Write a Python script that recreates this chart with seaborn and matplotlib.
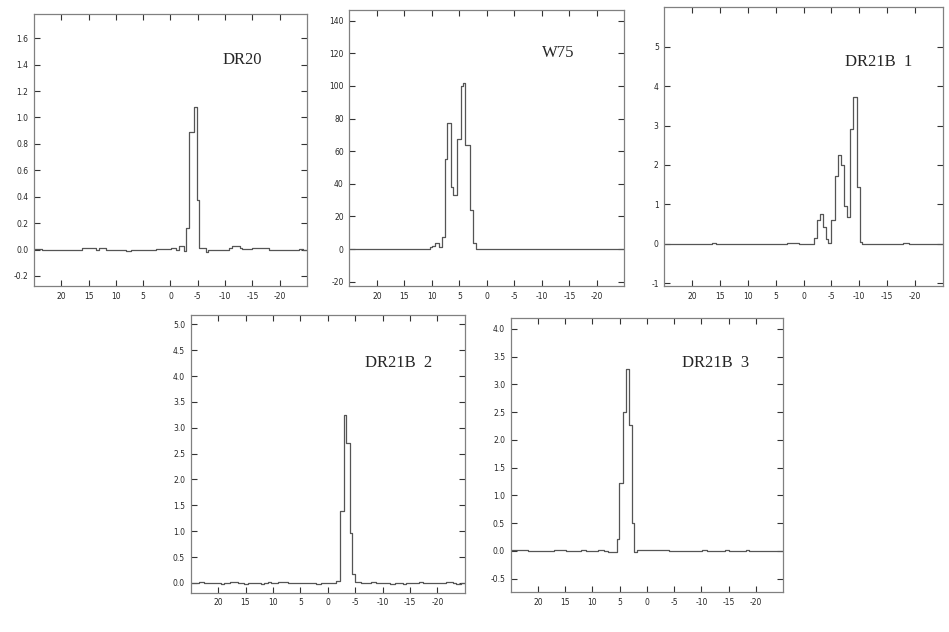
import numpy as np
import pandas as pd
import seaborn as sns
import matplotlib.pyplot as plt

# spectra as step breakpoints: velocity edge (km/s, descending) and value of channel starting there
dr20_vel = [25.0, 23.5, 19.8, 16.2, 13.7, 13.1, 11.9, 8.2, 7.3, 2.7, -0.1, -0.95, -1.56, -2.47,
            -2.85, -3.4, -4.35, -4.88, -5.3, -6.45, -6.93, -10.7, -11.3, -12.7, -13.15, -15.0,
            -18.0, -20.5, -23.5, -24.3]
dr20_flux = [0.005, 0.0, -0.005, 0.01, 0.0, 0.012, 0.0, -0.01, 0.0, 0.003, 0.012, 0.0, 0.027, -0.01,
             0.165, 0.893, 1.077, 0.373, 0.01, -0.015, 0.0, 0.01, 0.03, 0.01, 0.005, 0.015,
             -0.005, 0.0, 0.005, -0.005]

w75_vel = [25.0, 10.33, 9.90, 9.48, 8.63, 8.21, 7.61, 7.18, 6.53, 6.10, 5.38, 4.66, 4.37, 3.88,
           3.10, 2.56, 1.95]
w75_flux = [0, 1, 2, 4, 1.5, 7.5, 55.5, 77.5, 38, 33, 67.5, 100, 102, 64, 24, 4, 0]

b1_vel = [25.0, 16.4, 15.8, 3.0, 0.9, -1.90, -2.39, -2.87, -3.47, -3.95, -4.42, -4.96, -5.67,
          -6.28, -6.82, -7.29, -7.77, -8.31, -8.90, -9.62, -10.11, -10.55, -17.8, -19.0]
b1_flux = [0.0, 0.025, 0.0, 0.02, 0.0, 0.15, 0.6, 0.75, 0.42, 0.12, 0.03, 0.6, 1.72,
           2.25, 2.0, 0.95, 0.67, 2.92, 3.72, 1.45, 0.05, 0.0, 0.02, 0.0]

b2_vel = [25.0, 23.4, 22.5, 19.5, 18.9, 17.9, 16.4, 15.2, 14.6, 12.2, 11.6, 10.9, 10.3, 9.1, 7.3,
          2.1, 1.2, -1.53, -2.26, -2.92, -3.36, -3.96, -4.38, -5.05, -6.1, -7.9, -8.8, -11.3,
          -12.2, -13.7, -14.3, -16.7, -17.3, -21.6, -22.8, -23.4, -24.3]
b2_flux = [0.0, 0.02, 0.0, -0.02, 0.0, 0.015, 0.0, -0.02, 0.0, -0.02, 0.0, 0.02, 0.0, 0.02, 0.0,
           -0.02, 0.0, 0.03, 1.39, 3.25, 2.71, 0.96, 0.18, 0.01, 0.0, 0.02, 0.0, -0.015,
           0.0, -0.02, 0.0, 0.02, 0.0, 0.02, 0.0, -0.02, 0.0]

b3_vel = [25.0, 21.8, 17.0, 14.8, 12.1, 11.2, 9.0, 7.8, 7.2, 5.57, 5.08, 4.47, 3.86, 3.38, 2.83,
          2.34, 1.74, 0.8, -0.7, -2.8, -4.05, -10.1, -11.0, -14.4, -15.0, -18.1, -18.7]
b3_flux = [0.02, 0.0, 0.02, 0.0, 0.02, 0.0, 0.02, 0.0, -0.02, 0.22, 1.22, 2.5, 3.27, 2.27, 0.5,
           -0.02, 0.01, 0.02, 0.01, 0.02, 0.005, 0.02, 0.005, 0.02, 0.0, 0.015, 0.005]

names = ["DR20", "W75", "DR21B  1", "DR21B  2", "DR21B  3"]
yticks = [np.arange(-0.2, 1.61, 0.2), np.arange(-20, 141, 20), np.arange(-1, 6, 1),
          np.arange(0, 5.01, 0.5), np.arange(-0.5, 4.01, 0.5)]
yfmt = ["%.1f", "%d", "%d", "%.1f", "%.1f"]
ylims = [(-0.276, 1.784), (-22.6, 146.6), (-1.07, 6.0), (-0.19, 5.18), (-0.745, 4.19)]
xticks = [20, 15, 10, 5, 0, -5, -10, -15, -20]

sns.set_style("ticks")
plt.rcParams['axes.unicode_minus'] = False

fig = plt.figure(figsize=(9.49, 6.32), dpi=100)
boxes = [[0.0358, 0.5475, 0.2877, 0.4304],
         [0.3681, 0.5475, 0.2898, 0.4367],
         [0.7000, 0.5475, 0.2934, 0.4410],
         [0.2009, 0.0622, 0.2890, 0.4394],
         [0.5381, 0.0628, 0.2872, 0.4335]]
label_pos = [(0.69, 0.83), (0.70, 0.843), (0.649, 0.805), (0.635, 0.826), (0.627, 0.836)]
spectra = [(dr20_vel, dr20_flux), (w75_vel, w75_flux), (b1_vel, b1_flux),
           (b2_vel, b2_flux), (b3_vel, b3_flux)]

for i, (vel, flux) in enumerate(spectra):
    ax = fig.add_axes(boxes[i])
    df = pd.DataFrame({'v': vel + [-25.0], 'f': flux + [flux[-1]]})
    sns.lineplot(data=df, x='v', y='f', ax=ax, estimator=None, sort=False,
                 drawstyle='steps-post', color='#555555', linewidth=0.9)
    ax.set_xlim(25, -25)
    ax.set_ylim(*ylims[i])
    ax.set_xticks(xticks)
    ax.set_xticklabels([str(t) for t in xticks])
    ax.set_yticks(yticks[i])
    ax.set_yticklabels([yfmt[i] % t for t in yticks[i]])
    ax.tick_params(direction='in', length=4, width=0.8, color='#333333',
                   top=True, right=True, labelsize=5.5, pad=4)
    for s in ax.spines.values():
        s.set_color('#808080')
        s.set_linewidth(0.9)
    ax.set_xlabel('')
    ax.set_ylabel('')
    ax.text(label_pos[i][0], label_pos[i][1], names[i], transform=ax.transAxes,
            ha='left', va='center', fontsize=12, family='Liberation Serif')

fig.savefig('out.png', dpi=100)
